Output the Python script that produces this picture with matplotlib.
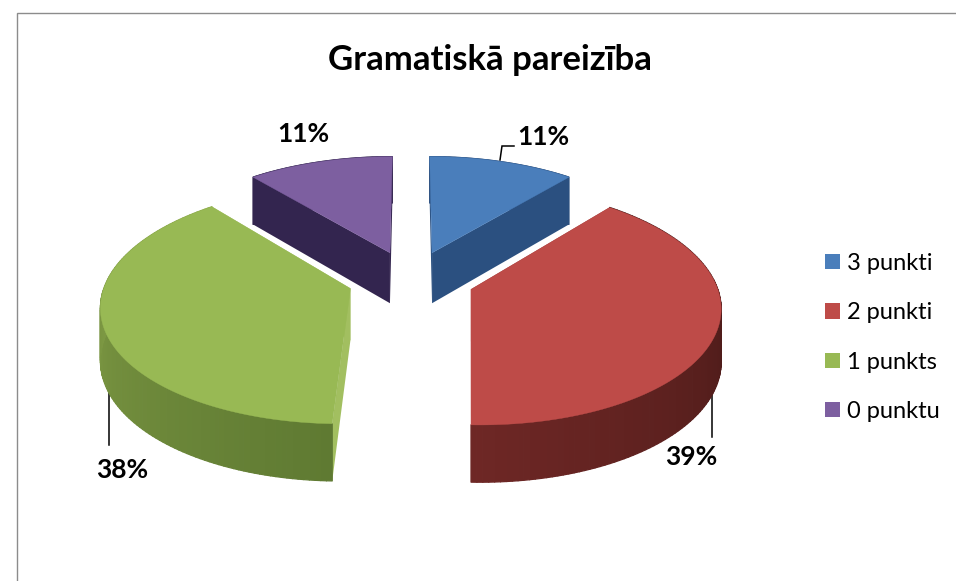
import numpy as np
import matplotlib
matplotlib.use("Agg")
import matplotlib.pyplot as plt
from matplotlib.patches import Patch
from matplotlib.collections import PolyCollection
from matplotlib.colors import to_rgb

plt.rcParams['font.family'] = ['Lato', 'DejaVu Sans']

title = "Gramatiskā pareizība"
categories = ["3 punkti", "2 punkti", "1 punkts", "0 punktu"]
values = [11, 39, 38, 11]
top_colors = ["#4A7EBB", "#BE4B48", "#98B954", "#7D5FA0"]
wall_colors = [("#2B5080", "#2B5080"), ("#6E2725", "#381412"), ("#8CA84C", "#5F7A32"), ("#33254F", "#33254F")]
side_colors = ["#2B5080", "#6E2725", "#A2BF60", "#33254F"]
label_pos = [(543, 137), (691, 457), (122, 470), (303, 134)]
leaders = [[(500, 160), (502, 146), (514, 146)], [(712, 385), (712, 437)], [(109, 380), (109, 445)], []]

CX, CY = 411, 279
A, B, K = 244, 115, 0.13
EX, EY = 0.26, 0.25
H = 51.5


def project(x, y, z=0.0):
    s = 1 / (1 + K * y)
    return CX + A * x * s, CY - B * y * s + z * s ** 0.7


fig = plt.figure(figsize=(9.56, 5.81), dpi=100)
ax = fig.add_axes([0, 0, 1, 1])
ax.set_xlim(0, 956)
ax.set_ylim(581, 0)
ax.axis("off")

ax.plot([17, 17, 956], [581, 13, 13], color="#8C8C8C", lw=1.0, solid_joinstyle="miter")

total = sum(values)
edges = np.cumsum([0] + values) / total * 2 * np.pi
for i in range(len(values)):
    t0, t1 = edges[i], edges[i + 1]
    m = (t0 + t1) / 2
    ox, oy = EX * np.sin(m), EY * np.cos(m)
    ts = np.linspace(t0, t1, 120)
    xs, ys = ox + np.sin(ts), oy + np.cos(ts)
    px, py = project(xs, ys)
    qx, qy = project(xs, ys, H)
    ax0, ay0 = project(ox, oy)
    bx0, by0 = project(ox, oy, H)
    for j in (0, -1):
        ax.fill([ax0, px[j], qx[j], bx0], [ay0, py[j], qy[j], by0], color=side_colors[i], lw=0, zorder=2)
    c0, c1 = np.array(to_rgb(wall_colors[i][0])), np.array(to_rgb(wall_colors[i][1]))
    quads, cols = [], []
    order = np.linspace(1, 0, len(ts) - 1)
    for n in range(len(ts) - 1):
        quads.append([(px[n], py[n]), (px[n + 1], py[n + 1]), (qx[n + 1], qy[n + 1]), (qx[n], qy[n])])
        cols.append(c0 + (c1 - c0) * order[n])
    ax.add_collection(PolyCollection(quads, facecolors=cols, edgecolors=cols, linewidths=0.9, zorder=2))
    ax.fill(np.r_[ax0, px], np.r_[ay0, py], color=top_colors[i], lw=0.3, zorder=3)

ax.text(490, 60, title, ha="center", va="center", fontsize=25, fontweight="bold", color="black")

for v, (x, y), seg in zip(values, label_pos, leaders):
    ax.text(x, y, f"{v}%", ha="center", va="center", fontsize=19, fontweight="bold", color="black", zorder=5)
    if seg:
        ax.plot(*zip(*seg), color="black", lw=1.1, zorder=1.5, solid_joinstyle="miter")

handles = [Patch(facecolor=c, edgecolor="none") for c in top_colors]
ax.legend(handles, categories, loc="center left", bbox_to_anchor=(825 / 956, 1 - 337.5 / 581), frameon=False,
          fontsize=17, handlelength=0.63, handleheight=0.63, handletextpad=0.3, labelspacing=1.2,
          borderpad=0, borderaxespad=0)

fig.savefig("out.png", dpi=100)
